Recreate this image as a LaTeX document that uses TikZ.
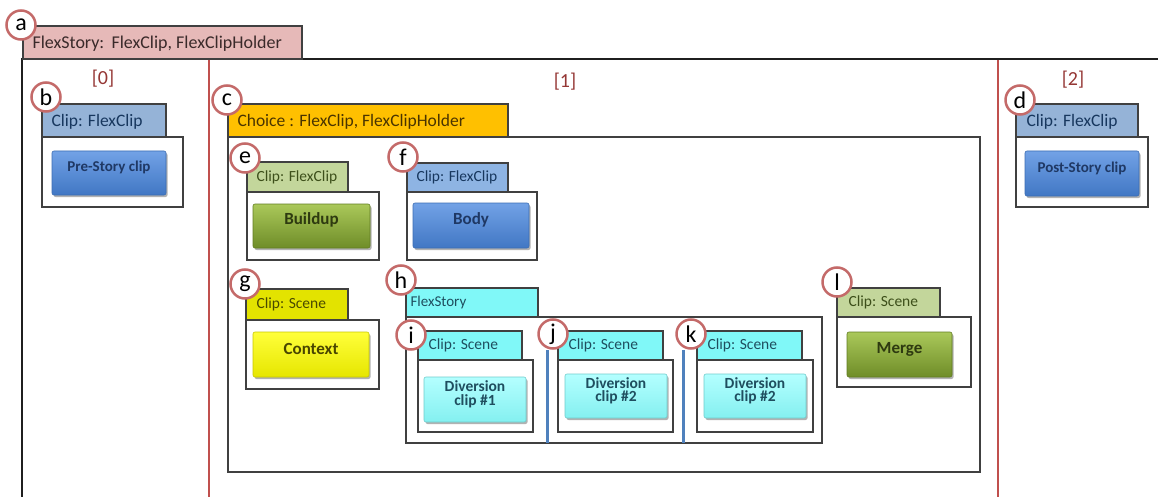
\documentclass[tikz,border=0pt]{standalone}
\usepackage{fontspec}
\setmainfont{Carlito}
\usetikzlibrary{fit,shadows}
\definecolor{divRed}{HTML}{C0504D}
\definecolor{circRed}{HTML}{C46A69}
\definecolor{brkRed}{HTML}{953735}
\definecolor{boxGray}{HTML}{404040}
\definecolor{pinkTab}{HTML}{E6B9B8}
\definecolor{blueTab}{HTML}{95B3D7}
\definecolor{blueTabB}{HTML}{8EB4E3}
\definecolor{orangeTab}{HTML}{FFC000}
\definecolor{greenTab}{HTML}{C3D69B}
\definecolor{yellowTab}{HTML}{E3E300}
\definecolor{cyanTab}{HTML}{80F8F8}
\definecolor{bTop}{HTML}{72A2E6}
\definecolor{bBot}{HTML}{4177C4}
\definecolor{bEdge}{HTML}{3C6DB3}
\definecolor{bTxt}{HTML}{1F3864}
\definecolor{gTop}{HTML}{AAC85A}
\definecolor{gBot}{HTML}{6F8D28}
\definecolor{gEdge}{HTML}{627D22}
\definecolor{gTxt}{HTML}{2E3A10}
\definecolor{yTop}{HTML}{FFFF3A}
\definecolor{yBot}{HTML}{E6E600}
\definecolor{yEdge}{HTML}{C8C800}
\definecolor{yTxt}{HTML}{4A4600}
\definecolor{cTop}{HTML}{B4FFFF}
\definecolor{cBot}{HTML}{84F0F0}
\definecolor{cEdge}{HTML}{70CCCC}
\definecolor{cTxt}{HTML}{1F4E5F}
\definecolor{navyTxt}{HTML}{17375E}
\definecolor{oliveTxt}{HTML}{3D4F1A}
\definecolor{brownTxt}{HTML}{4A3400}
\definecolor{pinkTxt}{HTML}{3A2A2A}
\definecolor{yelTxt}{HTML}{4A4A00}
\definecolor{lineBlue}{HTML}{4F81BD}
\begin{document}
\begin{tikzpicture}[x=1pt,y=-1pt,
  frame/.style={draw=black!88, line width=2pt},
  divider/.style={draw=divRed, line width=2.2pt},
  box/.style={draw=boxGray, line width=1.4pt, fill=white, inner sep=0pt},
  tab/.style={draw=boxGray, line width=1.4pt, inner sep=0pt},
  tabtxt/.style={inner sep=0pt, anchor=west},
  bigtab/.style={font=\fontsize{17.5}{20}\selectfont},
  midtab/.style={font=\fontsize{17.5}{20}\selectfont},
  smalltab/.style={font=\fontsize{15.5}{18}\selectfont},
  brk/.style={text=brkRed, font=\fontsize{20}{22}\selectfont, inner sep=0pt},
  btn/.style={rounded corners=2pt, inner sep=0pt, line width=0.6pt, align=center,
    drop shadow={shadow xshift=1.5pt, shadow yshift=-2pt, fill=black, opacity=0.3}},
  btnblue/.style={btn, top color=bTop, bottom color=bBot, draw=bEdge, text=bTxt},
  btngreen/.style={btn, top color=gTop, bottom color=gBot, draw=gEdge, text=gTxt},
  btnyellow/.style={btn, top color=yTop, bottom color=yBot, draw=yEdge, text=yTxt},
  btncyan/.style={btn, top color=cTop, bottom color=cBot, draw=cEdge, text=cTxt},
  btnbig/.style={font=\fontsize{17}{17}\selectfont\bfseries},
  btnsmall/.style={font=\fontsize{15}{15}\selectfont\bfseries},
  btndiv/.style={font=\fontsize{15.5}{13.5}\selectfont\bfseries},
  lbl/.style={circle, draw=circRed, line width=2.5pt, fill=white, minimum size=29pt,
    inner sep=0pt, font=\fontsize{24}{24}\selectfont},
  bluebar/.style={draw=lineBlue, line width=3pt}
]
\useasboundingbox (0,0) rectangle (1158,497);
\fill[white] (0,0) rectangle (1158,497);

% outer frame a
\coordinate (fbl) at (22,497);
\coordinate (ftl) at (22,59);
\coordinate (ftr) at (1158,59);
\draw[frame] (fbl) -- (ftl) -- (ftr);
\node[tab, fill=pinkTab, fit={(23,26) (302,59)}] (atab) {};
\node[tabtxt, font=\fontsize{18}{20}\selectfont, text=pinkTxt] (atabt) at ([xshift=10pt,yshift=-1pt]atab.west) {FlexStory:\hspace{0.4em}FlexClip, FlexClipHolder};

% dividers
\coordinate (d1t) at (209,60);
\coordinate (d1b) at (209,497);
\coordinate (d2t) at (998,60);
\coordinate (d2b) at (998,497);
\draw[divider] (d1t) -- (d1b);
\draw[divider] (d2t) -- (d2b);

\node[brk] (br0) at (103,79) {[0]};
\node[brk] (br1) at (565,82) {[1]};
\node[brk] (br2) at (1073,80) {[2]};

% b
\node[box, fit={(42,137) (183,207)}] (bbox) {};
\node[tab, fill=blueTab, fit={(42,104) (166,137)}] (btab) {};
\node[tabtxt, midtab, text=navyTxt] (btabt) at ([xshift=10pt,yshift=-1pt]btab.west) {Clip: FlexClip};
\node[btnblue, btnsmall, fit={(52,151) (166,195)}] (bbtn) {Pre-Story clip};

% c
\node[box, fit={(228,137) (980,472)}] (cbox) {};
\node[tab, fill=orangeTab, fit={(228,104) (508,137)}] (ctab) {};
\node[tabtxt, bigtab, text=brownTxt] (ctabt) at ([xshift=10pt,yshift=-1pt]ctab.west) {Choice : FlexClip, FlexClipHolder};

% d
\node[box, fit={(1016,137) (1148,207)}] (dbox) {};
\node[tab, fill=blueTab, fit={(1016,104) (1138,137)}] (dtab) {};
\node[tabtxt, midtab, text=navyTxt] (dtabt) at ([xshift=11pt,yshift=-1pt]dtab.west) {Clip: FlexClip};
\node[btnblue, btnsmall, fit={(1025,151) (1139,196)}] (dbtn) {Post-Story clip};

% e
\node[box, fit={(247,192) (379,260)}] (ebox) {};
\node[tab, fill=greenTab, fit={(247,162) (348,192)}] (etab) {};
\node[tabtxt, smalltab, text=oliveTxt] (etabt) at ([xshift=10pt]etab.west) {Clip: FlexClip};
\node[btngreen, btnbig, fit={(253,204) (370,248)}] (ebtn) {Buildup};

% f
\node[box, fit={(407,192) (537,260)}] (fbox) {};
\node[tab, fill=blueTabB, fit={(407,163) (508,192)}] (ftab) {};
\node[tabtxt, smalltab, text=navyTxt] (ftabt) at ([xshift=10pt]ftab.west) {Clip: FlexClip};
\node[btnblue, btnbig, fit={(413,203) (529,248)}] (fbtn) {Body};

% g
\node[box, fit={(246,320) (379,389)}] (gbox) {};
\node[tab, fill=yellowTab, fit={(246,289) (348,320)}] (gtab) {};
\node[tabtxt, smalltab, text=yelTxt] (gtabt) at ([xshift=11pt]gtab.west) {Clip: Scene};
\node[btnyellow, btnbig, fit={(253,332) (369,377)}] (gbtn) {Context};

% h
\node[box, fit={(406,317) (822,443)}] (hbox) {};
\node[tab, fill=cyanTab, fit={(406,288) (538,317)}] (htab) {};
\node[tabtxt, font=\fontsize{15}{18}\selectfont, text=cTxt] (htabt) at ([xshift=5pt]htab.west) {FlexStory};

% i
\node[box, fit={(418,360) (533,432)}] (ibox) {};
\node[tab, fill=cyanTab, fit={(418,331) (522,360)}] (itab) {};
\node[tabtxt, smalltab, text=cTxt] (itabt) at ([xshift=11pt]itab.west) {Clip: Scene};
\node[btncyan, btndiv, fit={(424,377) (526,422)}] (ibtn) {Diversion\\clip \#1};

% j
\coordinate (jbt) at (547,350);
\coordinate (jbb) at (547,443);
\draw[bluebar] (jbt) -- (jbb);
\node[box, fit={(558,360) (673,432)}] (jbox) {};
\node[tab, fill=cyanTab, fit={(558,331) (663,360)}] (jtab) {};
\node[tabtxt, smalltab, text=cTxt] (jtabt) at ([xshift=11pt]jtab.west) {Clip: Scene};
\node[btncyan, btndiv, fit={(565,374) (667,418)}] (jbtn) {Diversion\\clip \#2};

% k
\coordinate (kbt) at (683,350);
\coordinate (kbb) at (683,443);
\draw[bluebar] (kbt) -- (kbb);
\node[box, fit={(697,360) (813,432)}] (kbox) {};
\node[tab, fill=cyanTab, fit={(697,331) (802,360)}] (ktab) {};
\node[tabtxt, smalltab, text=cTxt] (ktabt) at ([xshift=11pt]ktab.west) {Clip: Scene};
\node[btncyan, btndiv, fit={(704,374) (806,418)}] (kbtn) {Diversion\\clip \#2};

% l
\node[box, fit={(837,317) (971,387)}] (lbox) {};
\node[tab, fill=greenTab, fit={(837,288) (940,317)}] (ltab) {};
\node[tabtxt, smalltab, text=oliveTxt] (ltabt) at ([xshift=12pt]ltab.west) {Clip: Scene};
\node[btngreen, btnbig, fit={(847,332) (952,377)}] (lbtn) {Merge};

% circle labels
\node[lbl] (la) at (21,25) {a};
\node[lbl] (lb) at (46,97) {b};
\node[lbl] (lc) at (227,100) {c};
\node[lbl] (ld) at (1020,100) {d};
\node[lbl] (le) at (245,158) {e};
\node[lbl] (lf) at (403,157) {f};
\node[lbl] (lg) at (245,284) {g};
\node[lbl] (lh) at (401,280) {h};
\node[lbl] (li) at (411,335) {i};
\node[lbl] (lj) at (553,334) {j};
\node[lbl] (lk) at (691,334) {k};
\node[lbl] (ll) at (837,282) {l};
\end{tikzpicture}
\end{document}
